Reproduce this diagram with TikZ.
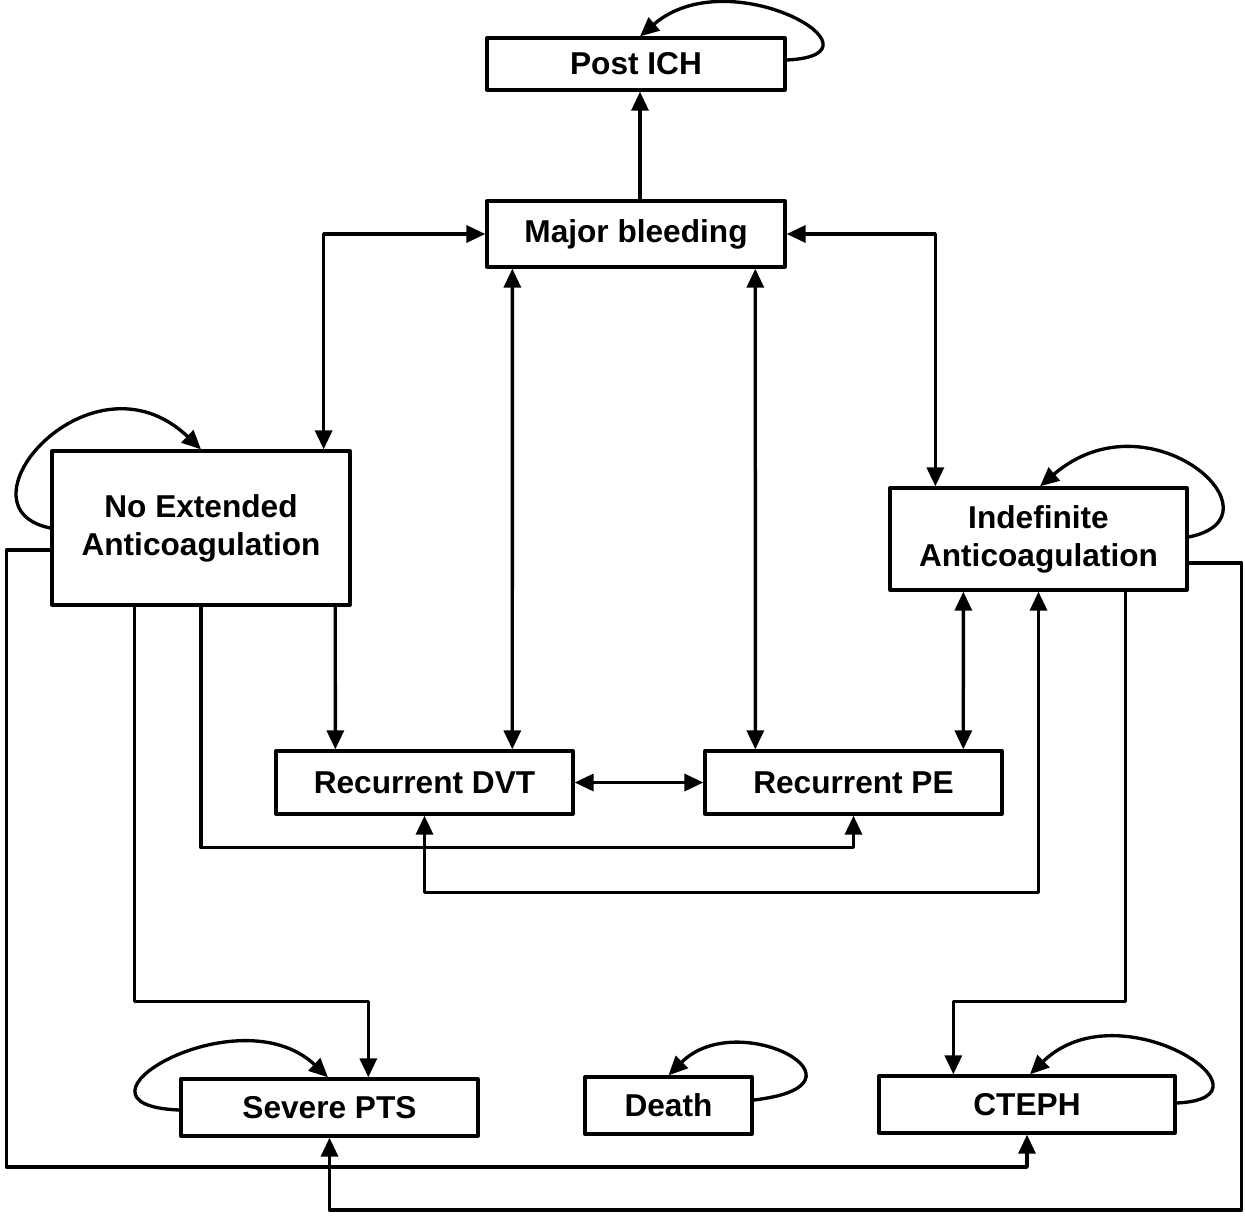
\documentclass[tikz,border=0pt]{standalone}
\usepackage{fontspec}
\setmainfont{Liberation Sans}
\usetikzlibrary{arrows.meta}
\begin{document}
\begin{tikzpicture}[line cap=round,line join=round,x=0.02cm,y=-0.02cm,
  state/.style={draw,line width=1.9pt,rectangle,inner sep=0pt,align=center,
    font=\bfseries\fontsize{18}{21.6}\selectfont},
  link/.style={line width=1.9pt,-{Triangle[length=0.38cm,width=0.34cm]}},
  both/.style={line width=1.9pt,{Triangle[length=0.38cm,width=0.34cm]}-{Triangle[length=0.38cm,width=0.34cm]}}]

\useasboundingbox (0,0) rectangle (1245,1215);

\node[state,minimum width=5.96cm,minimum height=1.04cm] (postich) at (636,64) {Post ICH};
\node[state,minimum width=5.96cm,minimum height=1.32cm] (bleed) at (636,234) {Major bleeding};
\node[state,minimum width=5.96cm,minimum height=3.08cm] (noext) at (201,528) {No Extended\\Anticoagulation};
\node[state,minimum width=5.94cm,minimum height=2.04cm] (indef) at (1038.5,539) {Indefinite\\Anticoagulation};
\node[state,minimum width=5.94cm,minimum height=1.26cm] (dvt) at (424.5,782.5) {Recurrent DVT};
\node[state,minimum width=5.94cm,minimum height=1.26cm] (pe) at (853.5,782.5) {Recurrent PE};
\node[state,minimum width=5.94cm,minimum height=1.14cm] (pts) at (329.5,1107.5) {Severe PTS};
\node[state,minimum width=3.34cm,minimum height=1.14cm] (death) at (668.5,1105.5) {Death};
\node[state,minimum width=5.92cm,minimum height=1.14cm] (cteph) at (1027,1104.5) {CTEPH};

\draw[link] ([xshift=0.08cm]bleed.north) -- ([xshift=0.08cm]postich.south);
\draw[both] (bleed.west) -| ([xshift=-0.56cm]noext.north east);
\draw[both] (bleed.east) -| ([xshift=0.94cm]indef.north west);
\draw[both] ([xshift=0.54cm]bleed.south west) -- ([xshift=4.76cm]dvt.north west);
\draw[both] ([xshift=5.4cm]bleed.south west) -- ([xshift=1.04cm]pe.north west);
\draw[both] (dvt.east) -- (pe.west);
\draw[both] ([xshift=1.5cm]indef.south west) -- ([xshift=5.2cm]pe.north west);
\draw[link] ([xshift=5.7cm]noext.south west) -- ([xshift=1.22cm]dvt.north west);
\draw[link] (noext.south) -- ++(0,241) -| (pe.south);
\draw[both] (indef.south) -- ++(0,301) -| (dvt.south);
\draw[link] ([xshift=1.68cm]noext.south west) -- ++(0,395) -| ([xshift=3.78cm]pts.north west);
\draw[link] ([xshift=4.74cm]indef.south west) -- ++(0,410) -| ([xshift=1.52cm]cteph.north west);
\draw[link] ([yshift=-0.44cm]noext.west) -- ++(-44,0) -- ++(0,617) -| (cteph.south);
\draw[link] ([yshift=-0.48cm]indef.east) -- ++(53,0) -- ++(0,647) -| (pts.south);

% self loops
\draw[link] ([yshift=0.08cm]postich.east) .. controls +(110,-5) and +(90,-78) .. ([xshift=0.08cm]postich.north);
\draw[link] ([yshift=0.04cm]indef.east) .. controls +(100,-20) and +(110,-95) .. ([xshift=0.03cm]indef.north);
\draw[link] (noext.west) .. controls +(-100,-20) and +(-110,-105) .. (noext.north);
\draw[link] ([yshift=-0.05cm]pts.west) .. controls +(-130,-5) and +(-90,-85) .. ([xshift=-0.03cm]pts.north);
\draw[link] ([yshift=0.11cm]death.east) .. controls +(130,-15) and +(70,-70) .. (death.north);
\draw[link] ([yshift=0.03cm]cteph.east) .. controls +(110,-5) and +(90,-88) .. ([xshift=0.06cm]cteph.north);
\end{tikzpicture}
\end{document}
